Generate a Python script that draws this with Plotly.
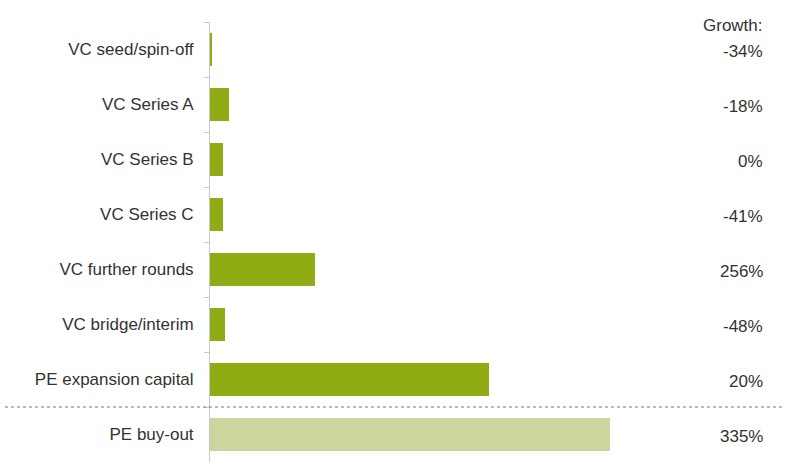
import plotly.graph_objects as go

# categories top to bottom
categories = ["VC seed/spin-off", "VC Series A", "VC Series B", "VC Series C",
              "VC further rounds", "VC bridge/interim", "PE expansion capital", "PE buy-out"]
# bar lengths (relative)
values = [2, 19, 13, 13, 105, 15, 279, 400]
growth = ["-34%", "-18%", "0%", "-41%", "256%", "-48%", "20%", "335%"]

dark_green = "#8fac15"
light_green = "#cbd69e"
colors = [dark_green] * 7 + [light_green]

fig = go.Figure()
fig.add_trace(go.Bar(
    y=categories, x=values, orientation="h",
    marker=dict(color=colors, line=dict(width=0)),
    width=0.6, hoverinfo="y+x",
))

# growth labels on the right
lab_x = (765 - 210) / 580
annotations = [dict(x=lab_x, y=c, xref="paper", yref="y", text=g, yshift=-2,
                    xanchor="right", yanchor="middle", showarrow=False)
               for c, g in zip(categories, growth)]
annotations.append(dict(x=lab_x, y=1.0, xref="paper", yref="paper", yshift=-3,
                        text="Growth:", xanchor="right", yanchor="middle", showarrow=False))

fig.update_layout(
    width=790, height=466,
    margin=dict(l=210, r=0, t=22, b=4, autoexpand=False),
    plot_bgcolor="white", paper_bgcolor="white",
    font=dict(family="Liberation Sans, Arial, sans-serif", size=17, color="#333333"),
    showlegend=False,
    annotations=annotations,
    shapes=[dict(type="line", xref="paper", yref="y", x0=-205 / 580, x1=575 / 580,
                 y0=6.5, y1=6.5, line=dict(color="#777777", width=1.2, dash="dot"))],
    xaxis=dict(range=[0, 580], visible=False, fixedrange=True, automargin=False),
    yaxis=dict(autorange="reversed", showline=True, linecolor="#c8c8c8", linewidth=1,
               ticks="outside", tickson="boundaries", ticklen=5, tickcolor="#c8c8c8",
               ticklabelstandoff=12, showgrid=False, zeroline=False, fixedrange=True,
               automargin=False),
)

fig.write_html("out.html", config={"displayModeBar": False},
               post_script="document.body.style.margin='0';")
